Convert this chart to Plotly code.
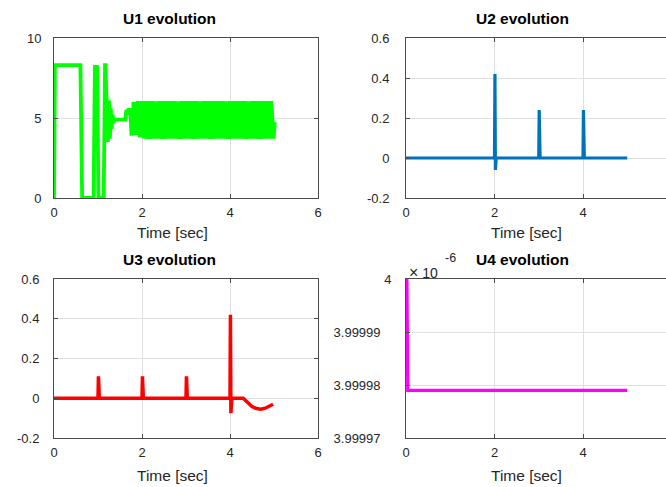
import plotly.graph_objects as go

# ---------------- data ----------------
# U1: control input 1 (switching phase, then fast oscillation)
u1_t = [0.00, 0.02, 0.60, 0.64, 0.90, 0.93, 0.955, 0.98, 1.01, 1.13, 1.16, 1.17,
        1.225, 1.25, 1.27, 1.29, 1.31, 1.33, 1.35, 1.38, 1.62, 1.645, 1.67, 1.69,
        1.71, 1.735, 1.76, 1.82]
u1_v = [0.0, 8.3, 8.3, 0.0, 0.0, 8.3, 7.9, 8.3, 0.0, 0.0, 8.3, 8.3,
        3.5, 6.1, 3.7, 5.6, 4.3, 5.2, 4.7, 4.9, 4.9, 5.5, 5.2, 5.6,
        5.3, 5.6, 3.9, 6.00]
u1_osc_t = [1.82, 1.87, 1.92, 1.97, 2.02, 2.07, 2.12, 2.17, 2.22, 2.27, 2.32, 2.37,
            2.42, 2.47, 2.52, 2.57, 2.62, 2.67, 2.72, 2.77, 2.82, 2.87, 2.92, 2.97,
            3.02, 3.07, 3.12, 3.17, 3.22, 3.27, 3.32, 3.37, 3.42, 3.47, 3.52, 3.57,
            3.62, 3.67, 3.72, 3.77, 3.82, 3.87, 3.92, 3.97, 4.02, 4.07, 4.12, 4.17,
            4.22, 4.27, 4.32, 4.37, 4.42, 4.47, 4.52, 4.57, 4.62, 4.67, 4.72, 4.77,
            4.82, 4.87, 4.92, 4.97, 5.00]
u1_osc_v = [6.00, 3.95, 6.05, 3.80, 6.05, 3.72, 6.06, 3.70, 6.05, 3.72, 6.04, 3.71,
            6.06, 3.70, 6.05, 3.72, 6.05, 3.71, 6.06, 3.72, 6.04, 3.70, 6.05, 3.71,
            6.06, 3.72, 6.05, 3.70, 6.05, 3.71, 6.04, 3.72, 6.06, 3.71, 6.05, 3.70,
            6.05, 3.72, 6.06, 3.71, 6.05, 3.72, 6.04, 3.70, 6.05, 3.71, 6.06, 3.72,
            6.05, 3.71, 6.05, 3.70, 6.04, 3.72, 6.06, 3.71, 6.05, 3.70, 6.05, 3.72,
            6.06, 3.71, 6.05, 3.72, 4.75]
assert len(u1_t) == len(u1_v) and len(u1_osc_t) == len(u1_osc_v)

# U2: impulses at 2, 3 and 4 s
u2_t = [0.00, 2.00, 2.01, 2.02, 2.04, 3.00, 3.01, 3.03, 4.00, 4.01, 4.03, 5.00]
u2_v = [0.0, 0.0, 0.42, -0.06, 0.0, 0.0, 0.24, 0.0, 0.0, 0.24, 0.0, 0.0]

# U3: impulses at 1..4 s and a slow dip at the end
u3_t = [0.00, 1.00, 1.01, 1.03, 2.00, 2.01, 2.03, 3.00, 3.01, 3.03, 4.00, 4.01,
        4.02, 4.04, 4.30, 4.40, 4.50, 4.60, 4.70, 4.80, 4.90, 4.98]
u3_v = [0.0, 0.0, 0.11, 0.0, 0.0, 0.11, 0.0, 0.0, 0.11, 0.0, 0.0, 0.42,
        -0.075, 0.0, 0.0, -0.022, -0.042, -0.052, -0.055, -0.050, -0.040, -0.030]

# U4 (values in units of 1e-6)
u4_t = [0.02, 0.04, 5.00]
u4_v = [4.0, 3.999979, 3.999979]

# tick definitions
x_ticks = [0, 2, 4, 6]
u1_ticks = [0, 5, 10]
u23_ticks = [-0.2, 0, 0.2, 0.4, 0.6]
u23_labels = ["-0.2", "0", "0.2", "0.4", "0.6"]
u4_ticks = [3.99997, 3.99998, 3.99999, 4.0]
u4_labels = ["3.99997\u00a0\u00a0\u00a0", "3.99998\u00a0\u00a0\u00a0",
             "3.99999\u00a0\u00a0\u00a0", "4"]

# ---------------- layout geometry ----------------
W, H = 666, 487
FONT = "Liberation Sans, Arial, Helvetica, sans-serif"


def fx(p):
    return p / W


def fy(p):
    return 1 - p / H


left_dom = [fx(54), fx(318)]
right_dom = [fx(406), 1.0]
right_xmax = (W - 406) / 44.25      # right panels run past the page edge
top_dom = [fy(198), fy(38)]
bot_dom = [fy(438), fy(279)]

tickfont = dict(family=FONT, size=13, color="#262626")
frame = "#4a4a4a"
grid = "#e0e0e0"


def xaxis(dom, anchor, xmax):
    return dict(domain=dom, anchor=anchor, range=[0, xmax], tickmode="array",
                tickvals=x_ticks, ticktext=[str(v) for v in x_ticks],
                showline=True, linecolor=frame, linewidth=1, mirror="allticks",
                ticks="inside", ticklen=4, tickcolor=frame, showgrid=True,
                gridcolor=grid, gridwidth=1, zeroline=False, tickfont=tickfont,
                ticklabelstandoff=2, automargin=False)


def yaxis(dom, anchor, rng, vals, texts, mirror, standoff):
    return dict(domain=dom, anchor=anchor, range=rng, tickmode="array",
                tickvals=vals, ticktext=texts, showline=True, linecolor=frame,
                linewidth=1, mirror=mirror, ticks="inside", ticklen=4,
                tickcolor=frame, showgrid=True, gridcolor=grid, gridwidth=1,
                zeroline=False, tickfont=tickfont, ticklabelstandoff=standoff,
                automargin=False)


fig = go.Figure()

fig.add_trace(go.Scatter(x=u1_t, y=u1_v, mode="lines",
                         line=dict(color="#00ff00", width=3.8),
                         xaxis="x", yaxis="y"))
fig.add_trace(go.Scatter(x=u1_osc_t, y=u1_osc_v, mode="lines",
                         line=dict(color="#00ff00", width=5.5),
                         xaxis="x", yaxis="y"))
fig.add_trace(go.Scatter(x=u2_t, y=u2_v, mode="lines",
                         line=dict(color="#0072bd", width=3.2),
                         xaxis="x2", yaxis="y2"))
fig.add_trace(go.Scatter(x=u3_t, y=u3_v, mode="lines",
                         line=dict(color="#ff0000", width=3.5),
                         xaxis="x3", yaxis="y3"))
fig.add_trace(go.Scatter(x=u4_t, y=u4_v, mode="lines",
                         line=dict(color="#ff00ff", width=3.2),
                         xaxis="x4", yaxis="y4"))

annotations = []


def text(x, y, s, size=15, bold=False, color="#000000", xanchor="center"):
    annotations.append(dict(
        x=fx(x), y=fy(y), xref="paper", yref="paper", showarrow=False,
        text=f"<b>{s}</b>" if bold else s, xanchor=xanchor, yanchor="middle",
        font=dict(family=FONT, size=size, color=color)))


# panel titles
text(169, 19, "U1 evolution", size=15.5, bold=True)
text(522, 19, "U2 evolution", size=15.5, bold=True)
text(169, 259, "U3 evolution", size=15.5, bold=True)
text(522, 259, "U4 evolution", size=15.5, bold=True)
# axis labels
for cx, cy in [(173, 233), (526, 233), (173, 475), (526, 475)]:
    text(cx, cy, "Time [sec]", size=15.5, color="#262626")
# exponent of the U4 axis
text(407, 272, "<span style='font-size:16px'>\u00d7</span> 10", size=14,
     color="#262626", xanchor="left")
text(443, 258, "-6", size=12.5, color="#262626", xanchor="left")

fig.update_layout(
    width=W, height=H, autosize=False,
    margin=dict(l=0, r=0, t=0, b=0, pad=0),
    paper_bgcolor="#ffffff", plot_bgcolor="rgba(0,0,0,0)",
    showlegend=False,
    xaxis=xaxis(left_dom, "y", 6),
    yaxis=yaxis(top_dom, "x", [0, 10], u1_ticks, [str(v) for v in u1_ticks],
                "allticks", 9),
    xaxis2=xaxis(right_dom, "y2", right_xmax),
    yaxis2=yaxis(top_dom, "x2", [-0.2, 0.6], u23_ticks, u23_labels, False, 13),
    xaxis3=xaxis(left_dom, "y3", 6),
    yaxis3=yaxis(bot_dom, "x3", [-0.2, 0.6], u23_ticks, u23_labels,
                 "allticks", 11),
    xaxis4=xaxis(right_dom, "y4", right_xmax),
    yaxis4=yaxis(bot_dom, "x4", [3.99997, 4.0], u4_ticks, u4_labels, False, 11),
    annotations=annotations,
)

fig.write_html("out.html", config={"displayModeBar": False})
